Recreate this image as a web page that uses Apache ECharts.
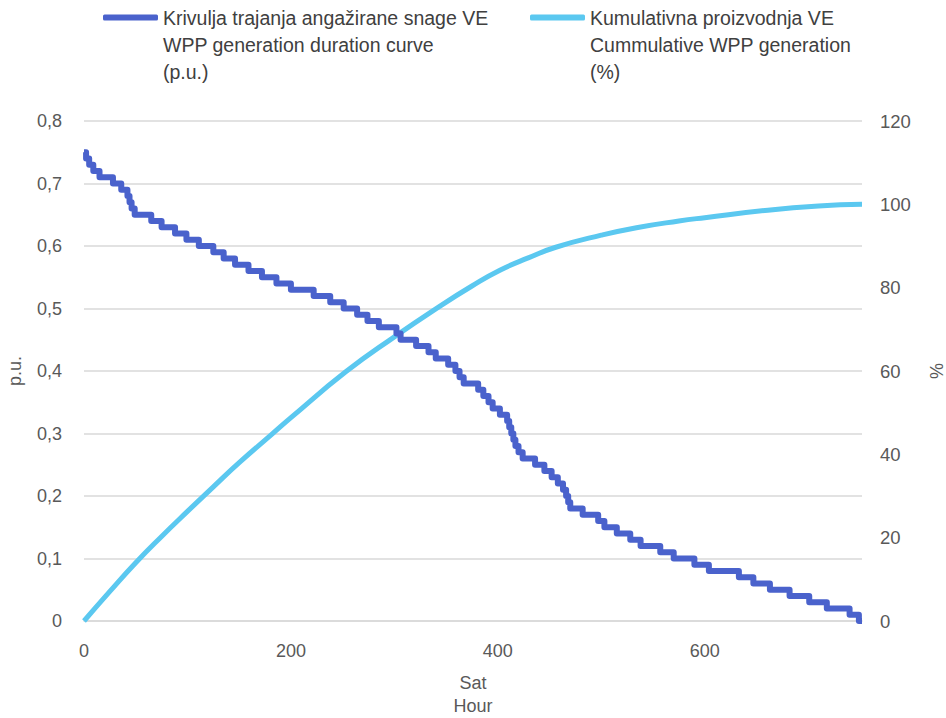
<!DOCTYPE html>
<html>
<head>
<meta charset="utf-8">
<script src="https://cdn.jsdelivr.net/npm/echarts@6/dist/echarts.min.js"></script>
<style>
html,body{margin:0;padding:0;background:#fff;overflow:hidden;width:946px;height:718px;}
#chart{width:946px;height:718px;overflow:hidden;}
</style>
</head>
<body>
<div id="chart"></div>
<script>
// Duration curve: hour at which each p.u. level starts, and the level
const durHours = [0,2,5,9,15,28,36,42,44,46,49,65,75,88,99,111,125,135,146,159,172,186,200,222,238,251,264,274,285,302,306,321,333,340,352,359,363,367,381,386,391,395,402,409,411,413,415,417,420,424,436,445,452,458,463,466,468,470,482,497,503,515,528,538,557,570,590,604,633,647,663,682,701,718,740,749,752];
const durValues = [0.75,0.74,0.73,0.72,0.71,0.70,0.69,0.68,0.67,0.66,0.65,0.64,0.63,0.62,0.61,0.60,0.59,0.58,0.57,0.56,0.55,0.54,0.53,0.52,0.51,0.50,0.49,0.48,0.47,0.46,0.45,0.44,0.43,0.42,0.41,0.40,0.39,0.38,0.37,0.36,0.35,0.34,0.33,0.32,0.31,0.30,0.29,0.28,0.27,0.26,0.25,0.24,0.23,0.22,0.21,0.20,0.19,0.18,0.17,0.16,0.15,0.14,0.13,0.12,0.11,0.10,0.09,0.08,0.07,0.06,0.05,0.04,0.03,0.02,0.01,0.00,0.00];

// Cumulative generation (%)
const cumHours = [0,25,50,75,100,125,150,182,200,253,300,343,375,402,430,456,500,534,575,600,661,710,752];
const cumValues = [0,7.1,14,20.3,26.3,32.2,38,44.9,48.8,59.8,68.2,75.4,80.4,84.2,87.2,89.7,92.6,94.4,96,96.8,98.6,99.6,100];

const seriesNames = [
  'Krivulja trajanja angažirane snage VE\nWPP generation duration curve\n(p.u.)',
  'Kumulativna proizvodnja VE\nCummulative WPP generation\n(%)'
];
const xTicks = [0,200,400,600];
const xMax = 752;

const FONT = '"Liberation Sans",Arial,sans-serif';
const TXT = '#595959';

const chart = echarts.init(document.getElementById('chart'), null, {renderer:'svg', width:946, height:718});

const legendCommon = {
  orient:'horizontal',
  icon:'roundRect',
  itemWidth:55,
  itemHeight:6,
  itemGap:0,
  top:-50,
  padding:0,
  formatter:function(name){return '\n\n'+name;},
  textStyle:{fontFamily:FONT,fontSize:19.5,color:'#404040',lineHeight:27},
  selectedMode:false
};

chart.setOption({
  animation:false,
  backgroundColor:'#fff',
  legend:[
    Object.assign({}, legendCommon, {data:[seriesNames[0]], left:103}),
    Object.assign({}, legendCommon, {data:[seriesNames[1]], left:530})
  ],
  grid:{left:84,right:84,top:121,bottom:97,containLabel:false,outerBoundsMode:'none'},
  xAxis:{
    type:'value',min:0,max:xMax,interval:200,
    name:'Sat\nHour',nameLocation:'middle',nameGap:50,
    nameTextStyle:{fontFamily:FONT,fontSize:18,color:TXT,lineHeight:23},
    axisLine:{show:true,lineStyle:{color:'#d9d9d9',width:1.5}},
    axisTick:{show:false},
    splitLine:{show:false},
    axisLabel:{fontFamily:FONT,fontSize:18,color:TXT,margin:21,showMaxLabel:false,
      formatter:function(v){return xTicks.indexOf(v)>=0?String(v):'';}}
  },
  yAxis:[
    {type:'value',min:0,max:0.8,interval:0.1,
     name:'p.u.',nameLocation:'middle',nameGap:60,nameRotate:90,
     nameTextStyle:{fontFamily:FONT,fontSize:18,color:TXT},
     axisLine:{show:false},axisTick:{show:false},
     splitLine:{show:true,lineStyle:{color:'#d9d9d9',width:1.5}},
     axisLabel:{fontFamily:FONT,fontSize:18,color:TXT,margin:22,
       formatter:function(v){return v===0?'0':v.toFixed(1).replace('.',',');}}},
    {type:'value',min:0,max:120,interval:20,position:'right',
     name:'%',nameLocation:'middle',nameGap:66,nameRotate:90,
     nameTextStyle:{fontFamily:FONT,fontSize:18,color:TXT},
     axisLine:{show:false},axisTick:{show:false},
     splitLine:{show:false},
     axisLabel:{fontFamily:FONT,fontSize:18.5,color:TXT,margin:18}}
  ],
  series:[
    {name:seriesNames[0],type:'line',yAxisIndex:0,step:'end',showSymbol:false,symbol:'none',
     itemStyle:{color:'#4a62cc'},
     lineStyle:{color:'#4a62cc',width:6,join:'round'},
     data:durHours.map(function(h,i){return [h,durValues[i]];}),z:3},
    {name:seriesNames[1],type:'line',yAxisIndex:1,smooth:0.5,showSymbol:false,symbol:'none',
     itemStyle:{color:'#5bc8f0'},
     lineStyle:{color:'#5bc8f0',width:5},
     data:cumHours.map(function(h,i){return [h,cumValues[i]];}),z:2}
  ]
});
</script>
</body>
</html>
